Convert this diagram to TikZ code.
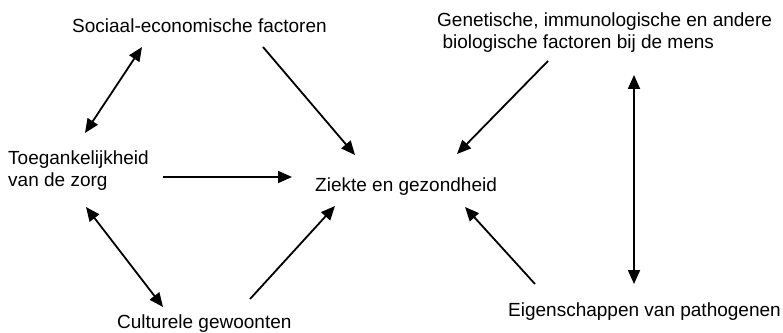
\documentclass[tikz,border=0pt]{standalone}
\usepackage{fontspec}
\setmainfont{Liberation Sans}
\usetikzlibrary{arrows.meta}

\begin{document}
\begin{tikzpicture}[x=1pt, y=1pt,
    factor/.style={inner sep=0pt, anchor=base west, align=left,
      font=\fontsize{19}{22}\selectfont},
    effect/.style={line width=1.8pt, -{Triangle[length=14pt, width=12pt]}},
    mutual/.style={line width=1.8pt, {Triangle[length=14pt, width=12pt]}-{Triangle[length=14pt, width=12pt]}}]

  \useasboundingbox (0,0) rectangle (783,332);

  % Factors (base = last line)
  \node[factor] (soc) at (72,299) {Sociaal-economische factoren};
  \node[factor] (gen) at (437,283) {Genetische, immunologische en andere\\\hspace*{0.28em}biologische factoren bij de mens};
  \node[factor] (toeg) at (8,145) {Toegankelijkheid\\van de zorg};
  \node[factor] (ziekte) at (315,140) {Ziekte en gezondheid};
  \node[factor] (cult) at (117,4) {Culturele gewoonten};
  \node[factor] (eig) at (508,16) {Eigenschappen van pathogenen};

  % Two-way links
  \draw[mutual] ([shift={(70,-14)}]soc.base west) -- ([shift={(77,54)}]toeg.base west);
  \draw[mutual] ([shift={(78,-20)}]toeg.base west) -- ([shift={(46,21)}]cult.base west);
  \draw[mutual] ([shift={(197,-26)}]gen.base west) -- ([shift={(126,32)}]eig.base west);

  % Effects on health
  \draw[effect] ([shift={(191,-14)}]soc.base west) -- ([shift={(40,37)}]ziekte.base west);
  \draw[effect] ([shift={(155,10)}]toeg.base west) -- ([shift={(-23,15)}]ziekte.base west);
  \draw[effect] ([shift={(133,29)}]cult.base west) -- ([shift={(20,-14)}]ziekte.base west);
  \draw[effect] ([shift={(111,-12)}]gen.base west) -- ([shift={(142,38)}]ziekte.base west);
  \draw[effect] ([shift={(27,32)}]eig.base west) -- ([shift={(150,-15)}]ziekte.base west);

\end{tikzpicture}
\end{document}
